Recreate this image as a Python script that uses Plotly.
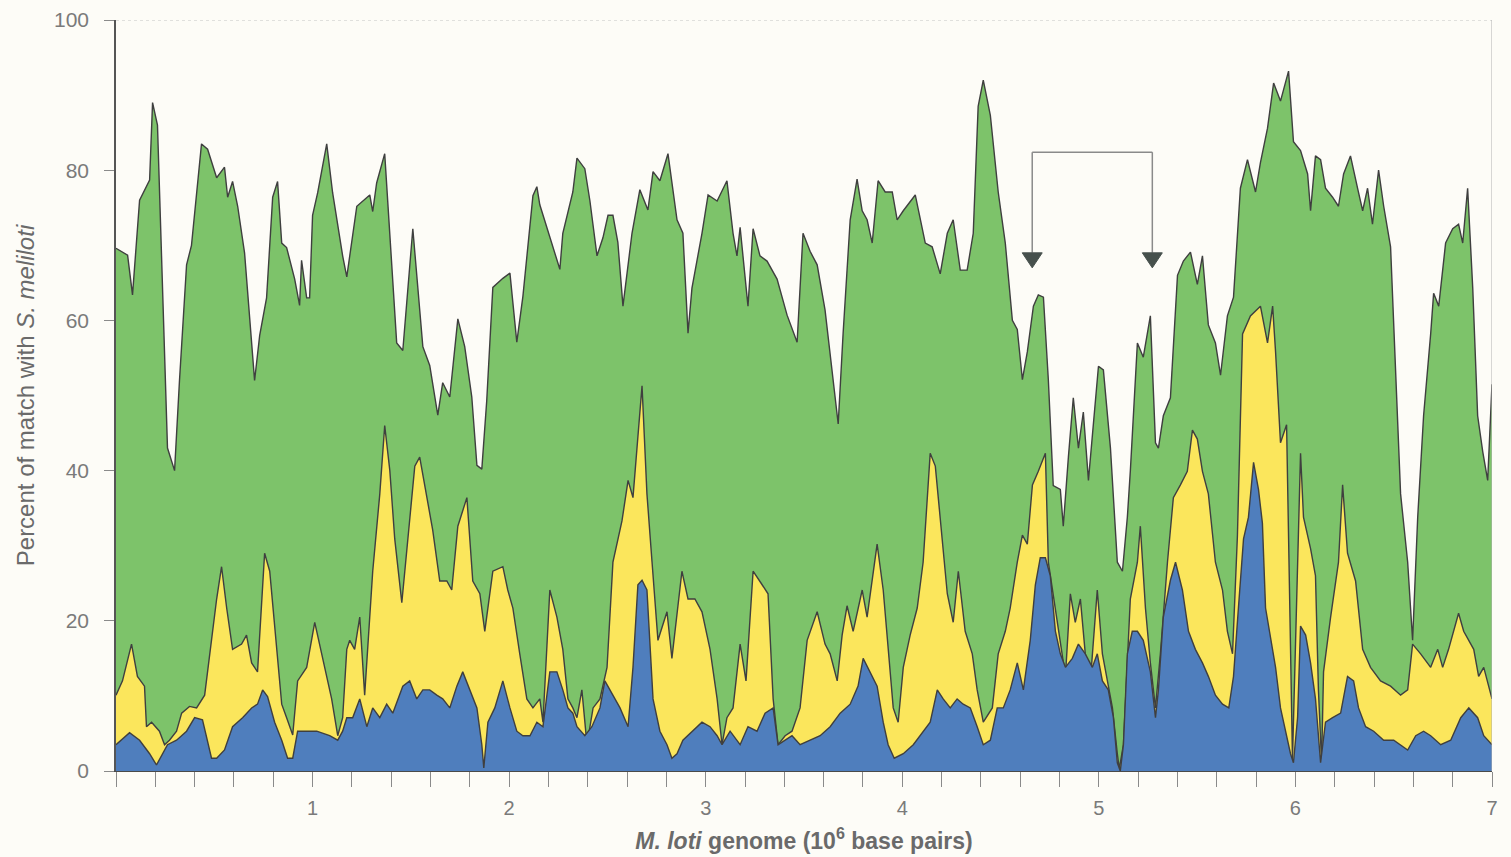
import plotly.graph_objects as go

# ---------------- data (cumulative boundaries, % match) ----------------
green_x = [0.000, 0.059, 0.084, 0.120, 0.171, 0.186, 0.211, 0.247, 0.262, 0.298, 0.323, 0.359, 0.384, 0.435, 0.466,
           0.512, 0.552, 0.568, 0.593, 0.619, 0.654, 0.705, 0.731, 0.766, 0.797, 0.822, 0.843, 0.868, 0.909, 0.934,
           0.944, 0.970, 0.985, 1.000, 1.026, 1.072, 1.102, 1.153, 1.174, 1.225, 1.291, 1.306, 1.326, 1.367, 1.403,
           1.428, 1.459, 1.510, 1.561, 1.596, 1.637, 1.662, 1.698, 1.739, 1.774, 1.810, 1.836, 1.861, 1.886, 1.917,
           1.968, 2.004, 2.039, 2.070, 2.121, 2.141, 2.156, 2.207, 2.258, 2.273, 2.324, 2.345, 2.385, 2.411, 2.447,
           2.477, 2.503, 2.528, 2.553, 2.579, 2.625, 2.665, 2.706, 2.732, 2.767, 2.808, 2.854, 2.884, 2.910, 2.930,
           2.981, 3.012, 3.058, 3.108, 3.139, 3.159, 3.175, 3.215, 3.241, 3.276, 3.312, 3.363, 3.414, 3.465, 3.495,
           3.531, 3.567, 3.607, 3.643, 3.674, 3.699, 3.735, 3.770, 3.796, 3.821, 3.847, 3.877, 3.913, 3.949, 3.974,
           4.005, 4.066, 4.117, 4.152, 4.193, 4.229, 4.259, 4.295, 4.330, 4.361, 4.386, 4.412, 4.448, 4.488, 4.524,
           4.560, 4.585, 4.611, 4.636, 4.667, 4.692, 4.718, 4.743, 4.768, 4.804, 4.819, 4.845, 4.870, 4.896, 4.921,
           4.947, 4.982, 4.998, 5.023, 5.059, 5.094, 5.120, 5.145, 5.160, 5.196, 5.226, 5.262, 5.288, 5.303, 5.328,
           5.364, 5.400, 5.430, 5.466, 5.501, 5.527, 5.557, 5.593, 5.619, 5.654, 5.685, 5.720, 5.756, 5.797, 5.822,
           5.858, 5.889, 5.924, 5.965, 5.990, 6.026, 6.062, 6.077, 6.102, 6.128, 6.153, 6.189, 6.219, 6.245, 6.280,
           6.316, 6.342, 6.367, 6.392, 6.423, 6.449, 6.484, 6.510, 6.535, 6.571, 6.596, 6.622, 6.652, 6.688, 6.703,
           6.729, 6.764, 6.800, 6.830, 6.851, 6.876, 6.902, 6.927, 6.953, 6.978, 7.000]
green_y = [69.6, 68.7, 63.4, 76.0, 78.7, 89.0, 86.0, 55.0, 43.0, 40.0, 52.0, 67.4, 70.0, 83.5, 82.8,
           79.0, 80.4, 76.4, 78.5, 75.2, 69.0, 52.0, 58.0, 63.0, 76.4, 78.5, 70.3, 69.7, 65.5, 62.0,
           68.0, 63.0, 63.0, 74.0, 77.0, 83.5, 77.0, 68.6, 65.8, 75.2, 76.7, 74.5, 78.3, 82.2, 67.4,
           57.0, 56.0, 72.2, 56.5, 54.0, 47.4, 51.7, 49.8, 60.2, 56.5, 49.8, 40.7, 40.2, 49.3, 64.4,
           65.6, 66.3, 57.1, 63.2, 76.6, 77.8, 75.4, 71.1, 66.8, 71.6, 77.1, 81.6, 80.2, 75.9, 68.6,
           71.0, 74.0, 74.0, 70.4, 61.9, 71.6, 77.4, 74.7, 79.8, 78.6, 82.2, 73.4, 71.6, 58.3, 64.3,
           71.6, 76.7, 75.9, 78.6, 71.6, 68.6, 72.4, 61.9, 72.2, 68.6, 67.9, 65.5, 60.7, 57.1, 71.6,
           69.2, 67.4, 61.4, 53.5, 46.2, 58.3, 73.4, 78.8, 74.6, 73.4, 70.3, 78.6, 77.1, 77.1, 73.4,
           74.6, 76.7, 70.3, 69.8, 66.2, 71.6, 73.4, 66.7, 66.7, 71.6, 88.5, 92.0, 87.3, 77.1, 70.3,
           60.0, 58.8, 52.1, 55.8, 61.9, 63.4, 63.1, 52.1, 38.0, 37.5, 32.6, 41.8, 49.7, 43.0, 47.8,
           38.7, 49.1, 53.9, 53.4, 43.0, 27.8, 26.6, 33.8, 39.9, 57.0, 55.1, 60.6, 43.7, 43.0, 47.3,
           49.7, 66.0, 67.9, 69.1, 64.8, 68.6, 59.4, 57.0, 52.7, 60.6, 63.1, 77.6, 81.4, 77.1, 81.0,
           85.6, 91.6, 89.2, 93.2, 83.8, 82.6, 79.5, 74.6, 81.9, 81.4, 77.6, 76.4, 75.2, 79.5, 81.9,
           77.6, 74.6, 77.6, 72.8, 80.0, 75.2, 69.8, 52.1, 36.9, 27.8, 17.4, 33.8, 47.3, 58.2, 63.6,
           61.9, 70.3, 72.2, 72.8, 70.3, 77.6, 64.3, 47.3, 42.5, 38.7, 51.5]

yellow_x = [0.000, 0.033, 0.079, 0.109, 0.145, 0.155, 0.181, 0.221, 0.247, 0.272, 0.308, 0.334, 0.374, 0.410, 0.451,
            0.476, 0.512, 0.537, 0.563, 0.593, 0.639, 0.664, 0.690, 0.720, 0.741, 0.756, 0.782, 0.817, 0.843, 0.868,
            0.899, 0.924, 0.970, 1.011, 1.051, 1.097, 1.128, 1.153, 1.174, 1.189, 1.214, 1.240, 1.265, 1.306, 1.342,
            1.367, 1.393, 1.418, 1.454, 1.484, 1.520, 1.545, 1.581, 1.611, 1.647, 1.683, 1.708, 1.739, 1.785, 1.815,
            1.851, 1.876, 1.917, 1.968, 1.993, 2.019, 2.054, 2.090, 2.121, 2.156, 2.172, 2.207, 2.243, 2.273, 2.299,
            2.324, 2.345, 2.370, 2.396, 2.427, 2.462, 2.498, 2.528, 2.574, 2.605, 2.630, 2.676, 2.701, 2.727, 2.757,
            2.803, 2.828, 2.879, 2.910, 2.945, 2.981, 3.022, 3.058, 3.083, 3.108, 3.139, 3.175, 3.205, 3.241, 3.287,
            3.317, 3.343, 3.368, 3.404, 3.439, 3.480, 3.516, 3.567, 3.607, 3.633, 3.669, 3.694, 3.719, 3.750, 3.796,
            3.821, 3.872, 3.903, 3.928, 3.954, 3.979, 4.005, 4.040, 4.076, 4.106, 4.142, 4.168, 4.193, 4.229, 4.259,
            4.285, 4.320, 4.356, 4.381, 4.412, 4.458, 4.488, 4.524, 4.549, 4.585, 4.611, 4.636, 4.662, 4.692, 4.728,
            4.743, 4.768, 4.804, 4.830, 4.855, 4.880, 4.906, 4.931, 4.957, 4.992, 5.018, 5.043, 5.069, 5.094, 5.104,
            5.125, 5.160, 5.196, 5.211, 5.237, 5.262, 5.288, 5.313, 5.349, 5.379, 5.415, 5.450, 5.476, 5.501, 5.527,
            5.557, 5.593, 5.629, 5.654, 5.680, 5.705, 5.731, 5.771, 5.822, 5.858, 5.884, 5.899, 5.924, 5.955, 5.985,
            6.026, 6.041, 6.077, 6.102, 6.117, 6.133, 6.143, 6.179, 6.219, 6.240, 6.265, 6.306, 6.342, 6.382, 6.433,
            6.484, 6.535, 6.571, 6.596, 6.637, 6.688, 6.724, 6.749, 6.779, 6.830, 6.856, 6.907, 6.932, 6.958, 7.000]
yellow_y = [10.1, 12.0, 16.9, 12.6, 11.3, 5.9, 6.5, 5.3, 3.5, 4.1, 5.3, 7.7, 8.6, 8.4, 10.1,
            15.6, 22.9, 27.2, 21.7, 16.2, 16.9, 18.1, 14.4, 13.2, 21.7, 29.0, 26.6, 16.9, 8.9, 7.1,
            4.8, 12.0, 13.8, 19.8, 15.0, 9.6, 4.7, 7.1, 16.2, 17.4, 16.2, 20.5, 10.1, 26.6, 36.9,
            46.0, 40.0, 30.9, 22.4, 30.9, 40.6, 41.8, 36.4, 32.1, 25.3, 25.3, 24.1, 32.6, 36.4, 25.3,
            23.6, 18.6, 26.6, 27.2, 24.1, 21.7, 15.6, 9.6, 8.4, 9.6, 6.5, 24.1, 20.5, 16.2, 9.6,
            8.4, 7.1, 10.8, 3.5, 8.4, 9.6, 13.8, 27.8, 33.3, 38.7, 36.4, 51.3, 36.9, 27.8, 17.4,
            21.2, 15.0, 26.6, 22.9, 22.9, 21.2, 16.2, 9.6, 3.5, 7.1, 8.4, 16.9, 12.0, 26.6, 24.8,
            23.6, 9.6, 3.5, 4.7, 5.3, 8.4, 17.4, 21.2, 16.9, 15.6, 12.0, 18.1, 22.0, 18.6, 24.1,
            20.5, 30.2, 24.1, 16.9, 8.4, 6.5, 13.8, 18.1, 21.7, 27.8, 42.3, 40.6, 33.8, 23.6, 19.8,
            26.6, 18.6, 15.6, 10.8, 6.5, 8.4, 15.6, 18.6, 21.7, 27.8, 31.4, 30.2, 38.1, 39.9, 42.3,
            27.8, 23.6, 16.9, 12.6, 23.6, 19.8, 22.9, 15.6, 12.0, 24.1, 15.6, 12.0, 8.4, 2.3, 0.3,
            3.5, 22.9, 27.8, 32.6, 21.7, 14.4, 8.4, 15.6, 27.8, 36.4, 38.1, 39.9, 45.4, 44.2, 39.9,
            36.9, 27.8, 24.1, 18.6, 15.6, 31.4, 58.2, 60.6, 61.9, 57.0, 61.9, 55.8, 43.7, 46.1, 1.6,
            42.3, 33.8, 29.6, 26.0, 10.8, 1.1, 13.2, 20.5, 27.8, 38.1, 29.0, 25.3, 16.2, 13.8, 12.0,
            11.3, 10.1, 10.8, 16.9, 15.6, 13.8, 16.2, 13.8, 16.2, 21.0, 18.6, 16.2, 12.6, 13.8, 9.6]

blue_x = [0.000, 0.069, 0.120, 0.171, 0.206, 0.237, 0.262, 0.308, 0.359, 0.400, 0.440, 0.486, 0.512, 0.552, 0.593,
          0.644, 0.690, 0.720, 0.746, 0.771, 0.807, 0.843, 0.873, 0.899, 0.924, 0.970, 1.021, 1.087, 1.128, 1.153,
          1.174, 1.204, 1.240, 1.276, 1.306, 1.342, 1.377, 1.408, 1.459, 1.494, 1.530, 1.561, 1.596, 1.632, 1.662,
          1.698, 1.734, 1.764, 1.800, 1.836, 1.861, 1.871, 1.892, 1.927, 1.968, 2.004, 2.039, 2.070, 2.106, 2.141,
          2.172, 2.207, 2.243, 2.273, 2.299, 2.324, 2.345, 2.385, 2.421, 2.462, 2.487, 2.528, 2.564, 2.605, 2.630,
          2.655, 2.676, 2.701, 2.716, 2.732, 2.767, 2.803, 2.828, 2.854, 2.884, 2.930, 2.981, 3.022, 3.058, 3.083,
          3.124, 3.175, 3.215, 3.261, 3.302, 3.343, 3.368, 3.404, 3.439, 3.480, 3.531, 3.582, 3.633, 3.684, 3.735,
          3.775, 3.801, 3.836, 3.872, 3.903, 3.928, 3.959, 4.005, 4.056, 4.106, 4.142, 4.178, 4.208, 4.244, 4.279,
          4.310, 4.346, 4.381, 4.412, 4.448, 4.483, 4.514, 4.549, 4.585, 4.616, 4.651, 4.677, 4.702, 4.728, 4.753,
          4.779, 4.804, 4.830, 4.865, 4.896, 4.931, 4.967, 4.992, 5.018, 5.048, 5.074, 5.094, 5.109, 5.125, 5.145,
          5.170, 5.196, 5.226, 5.262, 5.288, 5.303, 5.328, 5.364, 5.390, 5.425, 5.456, 5.491, 5.527, 5.557, 5.593,
          5.629, 5.661, 5.685, 5.710, 5.736, 5.761, 5.787, 5.812, 5.832, 5.848, 5.873, 5.899, 5.924, 5.950, 5.975,
          5.990, 6.011, 6.026, 6.052, 6.077, 6.102, 6.128, 6.153, 6.189, 6.230, 6.265, 6.296, 6.321, 6.357, 6.398,
          6.449, 6.500, 6.535, 6.571, 6.612, 6.652, 6.688, 6.739, 6.790, 6.841, 6.882, 6.927, 6.958, 7.000]
blue_y = [3.5, 5.1, 4.1, 2.3, 0.8, 2.3, 3.5, 4.1, 5.3, 7.1, 6.8, 1.7, 1.7, 2.8, 5.9,
          7.1, 8.4, 8.9, 10.8, 9.9, 6.5, 4.1, 1.7, 1.7, 5.3, 5.3, 5.3, 4.7, 4.1, 5.3,
          7.1, 7.1, 9.6, 5.9, 8.4, 7.1, 8.9, 7.7, 11.3, 12.0, 9.6, 10.8, 10.8, 10.1, 9.6,
          8.4, 11.3, 13.2, 10.8, 8.4, 3.5, 0.4, 6.5, 8.4, 12.0, 8.4, 5.3, 4.7, 4.7, 6.5,
          5.9, 13.2, 13.2, 10.8, 8.4, 7.7, 5.9, 4.7, 5.9, 8.4, 12.0, 10.1, 8.4, 5.9, 13.8,
          24.8, 25.4, 24.1, 17.4, 9.6, 5.3, 3.5, 1.7, 2.3, 4.1, 5.3, 6.5, 5.9, 4.7, 3.5,
          5.3, 3.5, 5.9, 5.3, 7.7, 8.4, 3.5, 4.1, 4.7, 3.5, 4.1, 4.7, 5.9, 7.7, 8.9,
          11.3, 15.0, 13.2, 11.3, 6.5, 3.5, 1.7, 2.3, 3.5, 5.3, 6.5, 10.8, 9.6, 8.4, 9.6,
          8.9, 8.4, 5.9, 3.5, 4.1, 8.4, 8.4, 10.8, 14.4, 10.8, 17.4, 24.8, 28.4, 28.4, 26.0,
          18.6, 15.6, 13.8, 15.0, 16.9, 15.6, 13.8, 15.6, 12.0, 10.8, 7.1, 1.1, 0.0, 3.5, 15.6,
          18.6, 18.6, 17.4, 13.2, 7.1, 10.8, 20.5, 25.4, 27.8, 24.1, 18.6, 16.2, 14.4, 12.6, 10.1,
          8.9, 8.4, 12.6, 21.7, 30.9, 33.8, 41.1, 37.5, 33.0, 21.7, 18.1, 13.8, 8.4, 5.3, 2.3,
          1.1, 7.1, 19.3, 18.1, 14.4, 9.6, 1.1, 6.5, 7.1, 7.7, 12.6, 12.0, 8.4, 5.9, 5.3,
          4.1, 4.1, 3.5, 2.8, 4.7, 5.3, 4.7, 3.5, 4.1, 7.1, 8.4, 7.1, 4.7, 3.5]

y_tick_values = [0, 20, 40, 60, 80, 100]
x_tick_values = [1, 2, 3, 4, 5, 6, 7]
x_tick_labels = ["1", "2", "3", "4", "5", "6", "7"]

# bracket marking the region of interest (genome positions, %)
bracket_left, bracket_right = 4.661, 5.272
bracket_top, arrow_tip = 82.4, 67.0

# ---------------- styling ----------------
BG = "#fdfcf7"
OUTLINE = "#3f3f3f"
FONT = "Liberation Sans, Arial, sans-serif"
TEXT = "#6e6e6e"

fig = go.Figure()
for xs, ys, col, name in [(green_x, green_y, "#7dc36a", "green"),
                          (yellow_x, yellow_y, "#fbe65c", "yellow"),
                          (blue_x, blue_y, "#4f7ebd", "blue")]:
    fig.add_trace(go.Scatter(x=xs, y=ys, mode="lines", fill="tozeroy",
                             fillcolor=col, line=dict(color=OUTLINE, width=1.4),
                             name=name, showlegend=False, hoverinfo="skip"))

fig.update_layout(
    width=1511, height=857,
    margin=dict(l=116, r=19, t=20, b=86),
    paper_bgcolor=BG, plot_bgcolor=BG,
    font=dict(family=FONT, color=TEXT, size=19),
    showlegend=False,
)
fig.update_xaxes(
    automargin=False,
    range=[0, 7], tickmode="array", tickvals=x_tick_values, ticktext=x_tick_labels,
    ticks="outside", ticklen=15, tickwidth=1, tickcolor="#8a8a8a",
    minor=dict(dtick=0.2, tick0=0, ticks="outside", ticklen=15, tickwidth=1, tickcolor="#8a8a8a", showgrid=False),
    showgrid=False, zeroline=False, showline=True, linecolor="#4a4a4a", linewidth=1,
    tickfont=dict(size=20, color="#7a7a7a"), ticklabelstandoff=4,
    title=dict(text="<b><i>M. loti</i> genome (10<sup>6</sup> base pairs)</b>",
               font=dict(size=23, color="#6a6a6a"), standoff=14),
)
fig.update_yaxes(
    automargin=False,
    range=[0, 100], tickmode="array", tickvals=y_tick_values,
    ticks="outside", ticklen=10, tickwidth=1, tickcolor="#8a8a8a",
    showgrid=False, zeroline=False, showline=True, linecolor="#555555", linewidth=1.5,
    tickfont=dict(size=21, color="#7a7a7a"), ticklabelstandoff=11,
    title=dict(text="Percent of match with <i>S. meliloti</i>",
               font=dict(size=24, color="#6a6a6a"), standoff=13),
)

# frame: light top and right borders
fig.add_shape(type="line", xref="x", yref="y", x0=0, x1=7, y0=100, y1=100,
              line=dict(color="#c4c4c4", width=1.2, dash="dot"))
fig.add_shape(type="line", xref="x", yref="y", x0=7, x1=7, y0=0, y1=100,
              line=dict(color="#b0b0b0", width=1))

# bracket: horizontal bar, two stems and two filled down-pointing heads
fig.add_shape(type="line", xref="x", yref="y", x0=bracket_left, x1=bracket_right,
              y0=bracket_top, y1=bracket_top, line=dict(color="#8a8a8a", width=1.5))
for bx in (bracket_left, bracket_right):
    fig.add_shape(type="line", xref="x", yref="y", x0=bx, x1=bx,
                  y0=bracket_top, y1=arrow_tip + 2.0, line=dict(color="#8a8a8a", width=1.5))
    fig.add_shape(type="path", xref="x", yref="y", xsizemode="pixel", ysizemode="pixel",
                  xanchor=bx, yanchor=arrow_tip,
                  path="M-10,15 L10,15 L0,0 Z",
                  fillcolor="#46504c", line=dict(color="#46504c", width=1))

fig.write_html("out.html", config={"displayModeBar": False},
               post_script="document.body.style.margin='0';")
